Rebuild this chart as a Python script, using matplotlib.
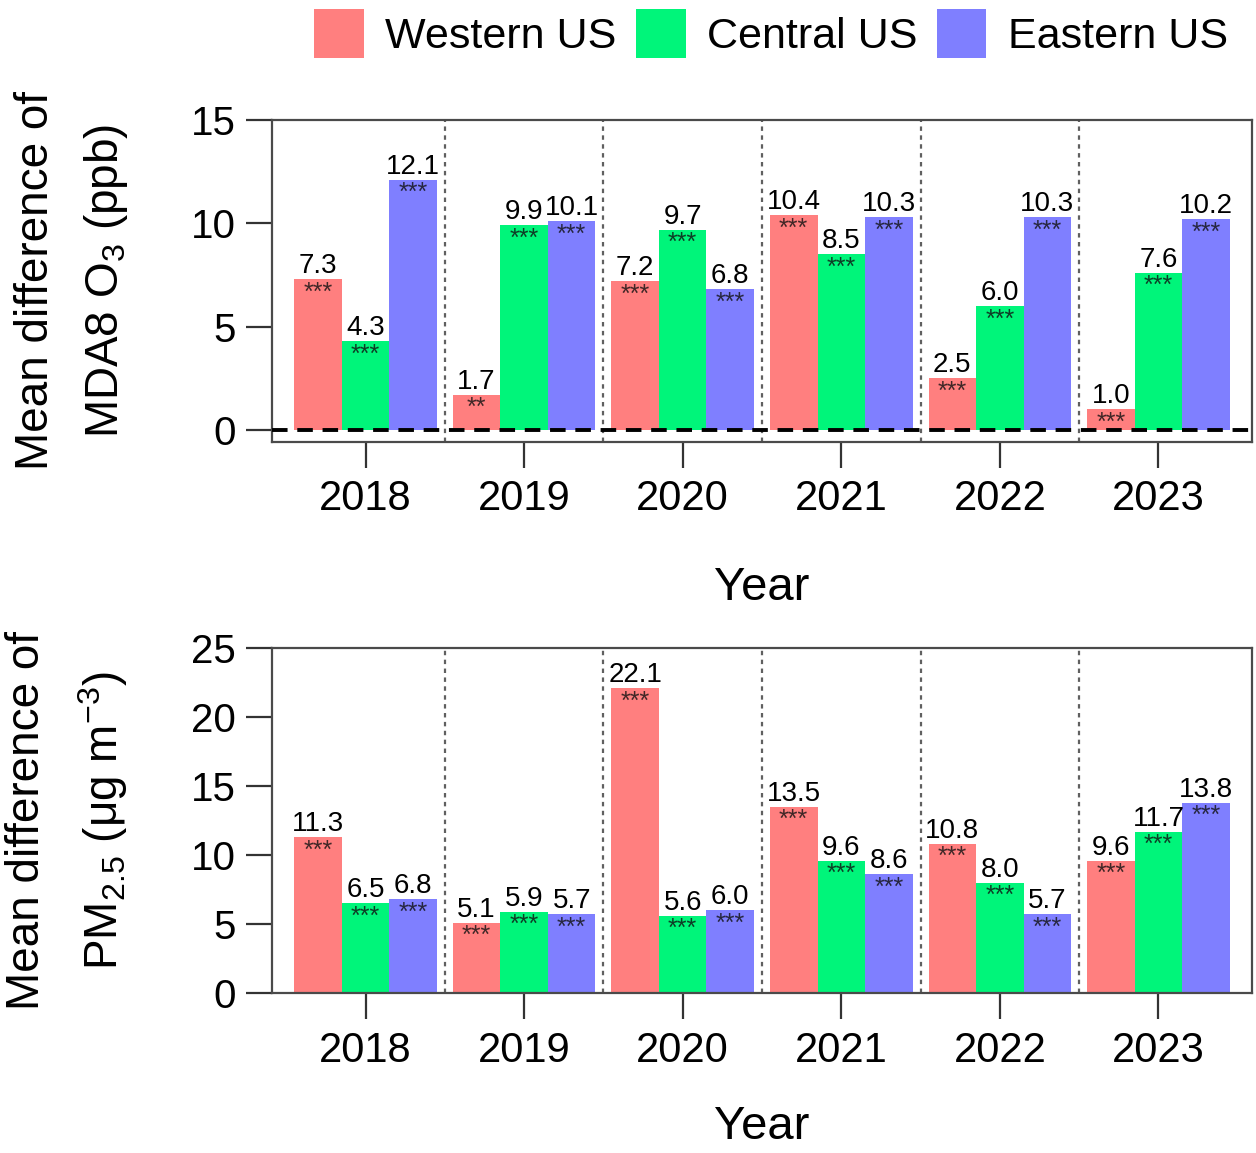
import matplotlib
matplotlib.use("Agg")
import matplotlib.pyplot as plt
import numpy as np
from matplotlib.patches import Patch

plt.rcParams['font.family'] = ['Liberation Sans', 'DejaVu Sans']
plt.rcParams['mathtext.fontset'] = 'custom'
plt.rcParams['mathtext.rm'] = 'Liberation Sans'
plt.rcParams['mathtext.it'] = 'Liberation Sans:italic'
plt.rcParams['mathtext.bf'] = 'Liberation Sans:bold'

# ---------------- data ----------------
years = ["2018", "2019", "2020", "2021", "2022", "2023"]
regions = ["Western US", "Central US", "Eastern US"]
colors = ["#FF7F7F", "#00F57A", "#7F7FFF"]

o3_west = [7.3, 1.7, 7.2, 10.4, 2.5, 1.0]
o3_central = [4.3, 9.9, 9.7, 8.5, 6.0, 7.6]
o3_east = [12.1, 10.1, 6.8, 10.3, 10.3, 10.2]
o3_sig_west = ["***", "**", "***", "***", "***", "***"]
o3_sig_central = ["***", "***", "***", "***", "***", "***"]
o3_sig_east = ["***", "***", "***", "***", "***", "***"]

pm_west = [11.3, 5.1, 22.1, 13.5, 10.8, 9.6]
pm_central = [6.5, 5.9, 5.6, 9.6, 8.0, 11.7]
pm_east = [6.8, 5.7, 6.0, 8.6, 5.7, 13.8]
pm_sig_west = ["***"] * 6
pm_sig_central = ["***"] * 6
pm_sig_east = ["***"] * 6

o3_yticks = [0, 5, 10, 15]
pm_yticks = [0, 5, 10, 15, 20, 25]

# ---------------- figure ----------------
W, H = 1256, 1153
fig = plt.figure(figsize=(W / 100, H / 100), dpi=100)

def frac_box(left, top, right, bottom):
    return [left / W, 1 - bottom / H, (right - left) / W, (bottom - top) / H]

ax1 = fig.add_axes(frac_box(272, 120, 1252, 442))
ax2 = fig.add_axes(frac_box(272, 648, 1252, 993))

spine_col = "#4a4a4a"
bar_w = 0.3
offsets = [-0.3, 0.0, 0.3]

def draw_panel(ax, series, sigs, ylim, yticks, ylabel, zero_line):
    x = np.arange(len(years))
    for k, (vals, sg) in enumerate(zip(series, sigs)):
        xs = x + offsets[k]
        ax.bar(xs, vals, width=bar_w, color=colors[k], edgecolor='none', zorder=2)
        for xi, v, s in zip(xs, vals, sg):
            ax.annotate(f"{v:.1f}", (xi, v), xytext=(0, 0), textcoords='offset points',
                        ha='center', va='bottom', fontsize=20, color='black', zorder=5)
            ax.annotate(s, (xi, v), xytext=(0, -1.0), textcoords='offset points',
                        ha='center', va='top', fontsize=18, color='#111111', alpha=0.8, zorder=5)
    for b in np.arange(0.5, len(years) - 1, 1.0):
        ax.axvline(b, color='#606060', linestyle=(0, (2, 2)), linewidth=1.6, zorder=1)
    if zero_line:
        ax.axhline(0, color='black', linestyle=(0, (4, 2.5)), linewidth=2.8, zorder=4)
    ax.set_xlim(-0.59, len(years) - 1 + 0.59)
    ax.set_ylim(*ylim)
    ax.set_yticks(yticks)
    ax.set_yticklabels([str(t) for t in yticks])
    ax.set_xticks(x)
    ax.set_xticklabels(years)
    ax.tick_params(axis='both', which='major', labelsize=29, length=19, width=1.6,
                   color='#333333', direction='out')
    ax.tick_params(axis='x', labelsize=30, pad=8)
    ax.tick_params(axis='y', pad=7)
    for sp in ax.spines.values():
        sp.set_color(spine_col)
        sp.set_linewidth(1.6)
    ax.set_xlabel("Year", fontsize=34, labelpad=0)
    ax.set_ylabel(ylabel, fontsize=33, linespacing=1.65)
    ax.yaxis.set_label_coords(-0.145, 0.5)

draw_panel(ax1, [o3_west, o3_central, o3_east],
           [o3_sig_west, o3_sig_central, o3_sig_east],
           (-0.58, 15), o3_yticks,
           "Mean difference of\nMDA8 O$_3$ (ppb)", True)
draw_panel(ax2, [pm_west, pm_central, pm_east],
           [pm_sig_west, pm_sig_central, pm_sig_east],
           (0, 25), pm_yticks,
           "Mean difference of\nPM$_{2.5}$ (μg m$^{-3}$)", False)

# x labels positions
ax1.xaxis.set_label_coords(0.5, -0.385)
ax2.xaxis.set_label_coords(0.5, -0.325)

handles = [Patch(facecolor=c, edgecolor='none') for c in colors]
fig.legend(handles, regions, loc='upper center', bbox_to_anchor=(0.614, 1.0),
           ncol=3, frameon=False, fontsize=31, handlelength=1.15, handleheight=1.4,
           handletextpad=0.5, columnspacing=0.45, borderpad=0.2, borderaxespad=0)

fig.savefig("out.png", dpi=100)
